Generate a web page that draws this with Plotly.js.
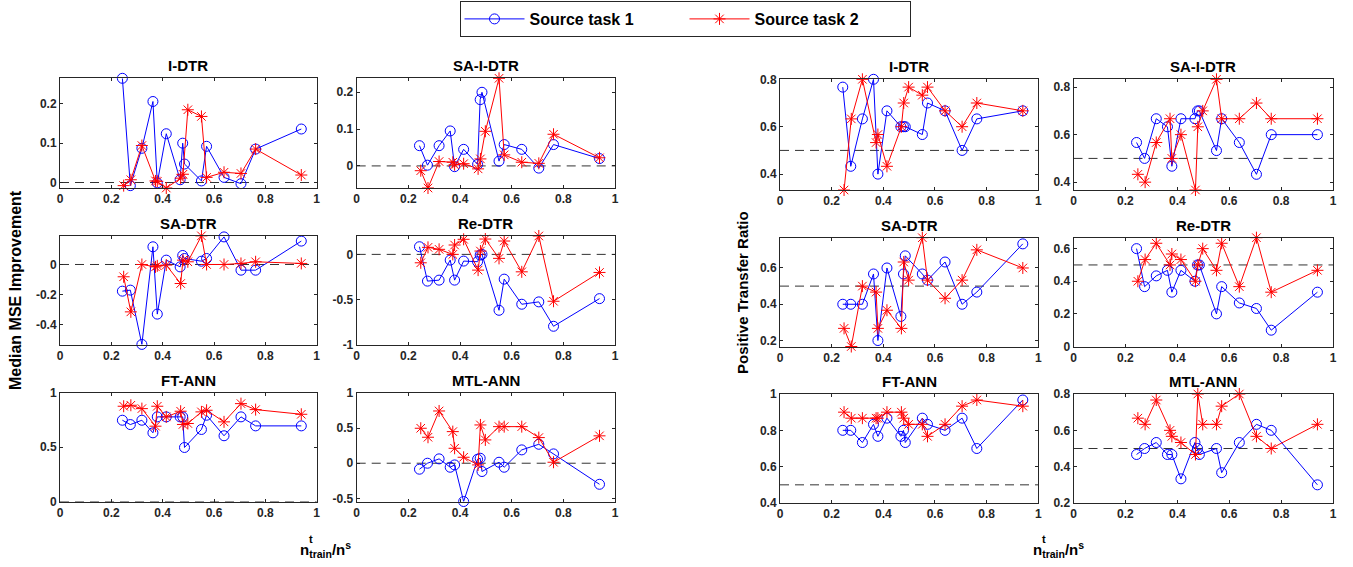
<!DOCTYPE html>
<html>
<head>
<meta charset="utf-8">
<script src="https://cdn.plot.ly/plotly-3.0.1.min.js"></script>
<style>html,body{margin:0;padding:0;background:#fff;}#chart{width:1353px;height:567px;}</style>
</head>
<body>
<div id="chart"></div>
<script>
// n_train^t / n^s for each source task
const x1 = [0.243, 0.274, 0.319, 0.362, 0.379, 0.414, 0.468, 0.478, 0.485, 0.551, 0.571, 0.639, 0.705, 0.762, 0.940];
const x2 = [0.248, 0.276, 0.319, 0.372, 0.379, 0.414, 0.470, 0.479, 0.498, 0.551, 0.571, 0.639, 0.705, 0.762, 0.940];

// Median MSE improvement
const mseIDTR1 = [0.265, -0.008, 0.087, 0.206, -0.001, 0.124, 0.007, 0.100, 0.047, 0.004, 0.092, 0.013, -0.003, 0.085, 0.136];
const mseIDTR2 = [-0.008, 0.007, 0.094, 0.004, 0.003, -0.014, 0.011, 0.021, 0.185, 0.168, 0.013, 0.026, 0.023, 0.085, 0.019];
const mseSAIDTR1 = [0.055, 0.002, 0.055, 0.095, -0.002, 0.045, 0.004, 0.180, 0.200, 0.013, 0.058, 0.045, -0.006, 0.058, 0.020];
const mseSAIDTR2 = [-0.013, -0.060, 0.012, 0.010, 0.003, 0.006, -0.008, 0.019, 0.094, 0.238, 0.030, 0.010, 0.007, 0.086, 0.022];
const mseSADTR1 = [-0.178, -0.171, -0.533, 0.118, -0.331, 0.029, -0.016, 0.060, 0.040, 0.022, 0.040, 0.184, -0.038, -0.038, 0.156];
const mseSADTR2 = [-0.082, -0.316, 0.000, -0.016, -0.009, -0.004, -0.127, 0.029, 0.018, 0.191, 0.000, 0.000, 0.007, 0.018, 0.007];
const mseReDTR1 = [0.085, -0.296, -0.285, -0.063, -0.285, -0.074, -0.081, -0.007, 0.000, -0.619, -0.274, -0.552, -0.526, -0.796, -0.490];
const mseReDTR2 = [-0.093, 0.078, 0.056, 0.000, 0.104, 0.167, -0.174, 0.037, 0.170, -0.044, 0.148, -0.193, 0.204, -0.519, -0.200];
const mseFTANN1 = [0.749, 0.709, 0.749, 0.633, 0.780, 0.780, 0.780, 0.780, 0.498, 0.664, 0.795, 0.606, 0.780, 0.697, 0.697];
const mseFTANN2 = [0.878, 0.887, 0.856, 0.694, 0.878, 0.780, 0.832, 0.710, 0.719, 0.826, 0.841, 0.734, 0.902, 0.847, 0.804];
const mseMTLANN1 = [-0.085, 0.000, 0.062, -0.057, -0.024, -0.545, 0.057, 0.071, -0.118, 0.014, -0.057, 0.190, 0.270, 0.133, -0.300];
const mseMTLANN2 = [0.498, 0.370, 0.744, 0.450, 0.213, 0.085, -0.024, 0.545, 0.332, 0.521, 0.521, 0.521, 0.365, 0.014, 0.390];

// Positive transfer ratio
const ptrIDTR1 = [0.767, 0.433, 0.633, 0.800, 0.400, 0.667, 0.600, 0.600, 0.600, 0.567, 0.700, 0.667, 0.500, 0.633, 0.667];
const ptrIDTR2 = [0.333, 0.633, 0.800, 0.533, 0.567, 0.433, 0.600, 0.700, 0.767, 0.733, 0.767, 0.667, 0.600, 0.700, 0.667];
const ptrSAIDTR1 = [0.567, 0.500, 0.667, 0.633, 0.467, 0.667, 0.667, 0.700, 0.700, 0.533, 0.667, 0.567, 0.433, 0.600, 0.600];
const ptrSAIDTR2 = [0.433, 0.400, 0.567, 0.667, 0.500, 0.600, 0.367, 0.633, 0.700, 0.833, 0.667, 0.667, 0.733, 0.667, 0.667];
const ptrSADTR1 = [0.400, 0.400, 0.400, 0.567, 0.200, 0.600, 0.333, 0.567, 0.667, 0.567, 0.533, 0.633, 0.400, 0.467, 0.733];
const ptrSADTR2 = [0.267, 0.167, 0.500, 0.467, 0.267, 0.367, 0.267, 0.633, 0.533, 0.767, 0.533, 0.433, 0.533, 0.700, 0.600];
const ptrReDTR1 = [0.600, 0.367, 0.433, 0.467, 0.333, 0.467, 0.400, 0.500, 0.500, 0.200, 0.367, 0.267, 0.233, 0.100, 0.333];
const ptrReDTR2 = [0.400, 0.533, 0.633, 0.500, 0.567, 0.533, 0.400, 0.500, 0.600, 0.467, 0.633, 0.367, 0.667, 0.333, 0.467];
const ptrFTANN1 = [0.800, 0.800, 0.733, 0.833, 0.767, 0.867, 0.767, 0.800, 0.733, 0.867, 0.833, 0.800, 0.867, 0.700, 0.967];
const ptrFTANN2 = [0.900, 0.867, 0.867, 0.867, 0.867, 0.900, 0.900, 0.867, 0.833, 0.833, 0.767, 0.833, 0.933, 0.967, 0.933];
const ptrMTLANN1 = [0.467, 0.500, 0.533, 0.467, 0.467, 0.333, 0.533, 0.500, 0.467, 0.500, 0.367, 0.533, 0.633, 0.600, 0.300];
const ptrMTLANN2 = [0.667, 0.633, 0.767, 0.600, 0.567, 0.533, 0.467, 0.800, 0.633, 0.633, 0.733, 0.800, 0.567, 0.500, 0.633];

// labels
const seriesNames = ['Source task 1', 'Source task 2'];
const methodTitles = ['I-DTR', 'SA-I-DTR', 'SA-DTR', 'Re-DTR', 'FT-ANN', 'MTL-ANN'];
const xTicks = [0, 0.2, 0.4, 0.6, 0.8, 1];
const yTicksMSE = [[0, 0.1, 0.2], [0, 0.1, 0.2], [-0.4, -0.2, 0], [-1, -0.5, 0], [0, 0.5, 1], [-0.5, 0, 0.5, 1]];
const yTicksPTR = [[0.4, 0.6, 0.8], [0.4, 0.6, 0.8], [0.2, 0.4, 0.6], [0, 0.2, 0.4, 0.6], [0.4, 0.6, 0.8, 1], [0.2, 0.4, 0.6, 0.8]];
const refMSE = 0, refPTR = 0.5;

const mseSeries = [[mseIDTR1, mseIDTR2], [mseSAIDTR1, mseSAIDTR2], [mseSADTR1, mseSADTR2], [mseReDTR1, mseReDTR2], [mseFTANN1, mseFTANN2], [mseMTLANN1, mseMTLANN2]];
const ptrSeries = [[ptrIDTR1, ptrIDTR2], [ptrSAIDTR1, ptrSAIDTR2], [ptrSADTR1, ptrSADTR2], [ptrReDTR1, ptrReDTR2], [ptrFTANN1, ptrFTANN2], [ptrMTLANN1, ptrMTLANN2]];

// layout geometry (pixels)
const W = 1353, H = 567;
const colsPx = [[60, 316.7], [356.7, 615], [780, 1038.3], [1073.5, 1333]];
const rowsLeftPx = [[78.3, 188], [235.7, 344.7], [393, 501.5]];
const rowsRightPx = [[79.3, 190], [237.7, 346.5], [394, 503]];
const yRangesMSE = [[-0.014, 0.265], [-0.060, 0.238], [-0.535, 0.192], [-1, 0.207], [0, 1], [-0.545, 1]];
const yRangesPTR = [[0.333, 0.8], [0.367, 0.833], [0.167, 0.767], [0, 0.667], [0.4, 1], [0.2, 0.8]];

const BLUE = '#0000ff', RED = '#ff0000', AX = '#262626';
const FONT = 'Liberation Sans, Arial, sans-serif';

const traces = [];
const layout = {
  width: W, height: H,
  margin: {l: 0, r: 0, t: 0, b: 0},
  paper_bgcolor: '#fff', plot_bgcolor: '#fff',
  font: {family: FONT, color: '#000'},
  showlegend: true,
  legend: {
    orientation: 'h', x: 685 / W, xanchor: 'center', y: 1 - 1 / H, yanchor: 'top',
    bordercolor: AX, borderwidth: 1, bgcolor: '#fff',
    font: {family: FONT, size: 16, weight: 'bold', color: '#000'},
    itemwidth: 60, entrywidth: 150, tracegroupgap: 0
  },
  shapes: [], annotations: []
};

let k = 0;
for (let panel = 0; panel < 2; panel++) {
  for (let m = 0; m < 6; m++) {
    k++;
    const row = Math.floor(m / 2), col = panel * 2 + (m % 2);
    const rowsPx = panel === 0 ? rowsLeftPx : rowsRightPx;
    const xs = k === 1 ? 'x' : 'x' + k, ys = k === 1 ? 'y' : 'y' + k;
    const xa = k === 1 ? 'xaxis' : 'xaxis' + k, ya = k === 1 ? 'yaxis' : 'yaxis' + k;
    const series = panel === 0 ? mseSeries[m] : ptrSeries[m];
    const yr = panel === 0 ? yRangesMSE[m] : yRangesPTR[m];
    const yt = panel === 0 ? yTicksMSE[m] : yTicksPTR[m];
    const ref = panel === 0 ? refMSE : refPTR;

    traces.push({
      x: x1, y: series[0], xaxis: xs, yaxis: ys, type: 'scatter', mode: 'lines+markers',
      name: seriesNames[0], showlegend: k === 1, legendgroup: 's1', cliponaxis: false,
      line: {color: BLUE, width: 1},
      marker: {symbol: 'circle-open', size: 10, color: BLUE, line: {color: BLUE, width: 1}}
    });
    traces.push({
      x: x2, y: series[1], xaxis: xs, yaxis: ys, type: 'scatter', mode: 'lines+markers',
      name: seriesNames[1], showlegend: k === 1, legendgroup: 's2', cliponaxis: false,
      line: {color: RED, width: 1},
      marker: {symbol: 'asterisk-open', size: 10, color: RED, line: {color: RED, width: 1}}
    });

    const c = colsPx[col], r = rowsPx[row];
    layout[xa] = {
      domain: [c[0] / W, c[1] / W], anchor: ys, range: [0, 1],
      tickvals: xTicks, ticktext: xTicks.map(String),
      ticks: 'inside', ticklen: 3, tickcolor: AX, mirror: 'ticks',
      showline: true, linecolor: AX, linewidth: 1, showgrid: false, zeroline: false,
      tickfont: {family: FONT, size: 12, weight: 'bold', color: '#262626'}
    };
    layout[ya] = {
      domain: [1 - r[1] / H, 1 - r[0] / H], anchor: xs, range: yr,
      tickvals: yt, ticktext: yt.map(String),
      ticks: 'inside', ticklen: 3, tickcolor: AX, mirror: 'ticks',
      showline: true, linecolor: AX, linewidth: 1, showgrid: false, zeroline: false,
      tickfont: {family: FONT, size: 12, weight: 'bold', color: '#262626'}
    };
    layout.shapes.push({
      type: 'line', xref: xs + ' domain', yref: ys, x0: 0, x1: 1, y0: ref, y1: ref,
      line: {color: '#333333', width: 1, dash: '9px,6px'}, layer: 'below'
    });
    layout.annotations.push({
      text: methodTitles[m], xref: xs + ' domain', yref: ys + ' domain', x: 0.5, y: 1,
      xanchor: 'center', yanchor: 'bottom', yshift: 2, showarrow: false,
      font: {family: FONT, size: 15, weight: 'bold', color: '#000'}
    });
  }
}

// axis labels
layout.annotations.push({
  text: 'Median MSE Improvement', xref: 'paper', yref: 'paper', x: 15 / W, y: 1 - 290 / H,
  xanchor: 'center', yanchor: 'middle', textangle: -90, showarrow: false,
  font: {family: FONT, size: 16, weight: 'bold', color: '#000'}
});
layout.annotations.push({
  text: 'Positive Transfer Ratio', xref: 'paper', yref: 'paper', x: 742 / W, y: 1 - 293 / H,
  xanchor: 'center', yanchor: 'middle', textangle: -90, showarrow: false,
  font: {family: FONT, size: 15, weight: 'bold', color: '#000'}
});
const xLabelLeft = [298, 1031];
xLabelLeft.forEach(function (px) {
  layout.annotations.push({
    text: 'n<sub>train</sub>/n<sup>s</sup>', xref: 'paper', yref: 'paper', x: px / W, y: 1 - 549 / H,
    xanchor: 'left', yanchor: 'middle', showarrow: false,
    font: {family: FONT, size: 15, weight: 'bold', color: '#000'}
  });
  layout.annotations.push({
    text: 't', xref: 'paper', yref: 'paper', x: (px + 8.5) / W, y: 1 - 539 / H,
    xanchor: 'left', yanchor: 'middle', showarrow: false,
    font: {family: FONT, size: 11, weight: 'bold', color: '#000'}
  });
});

Plotly.newPlot('chart', traces, layout, {staticPlot: true, displayModeBar: false});
</script>
</body>
</html>
